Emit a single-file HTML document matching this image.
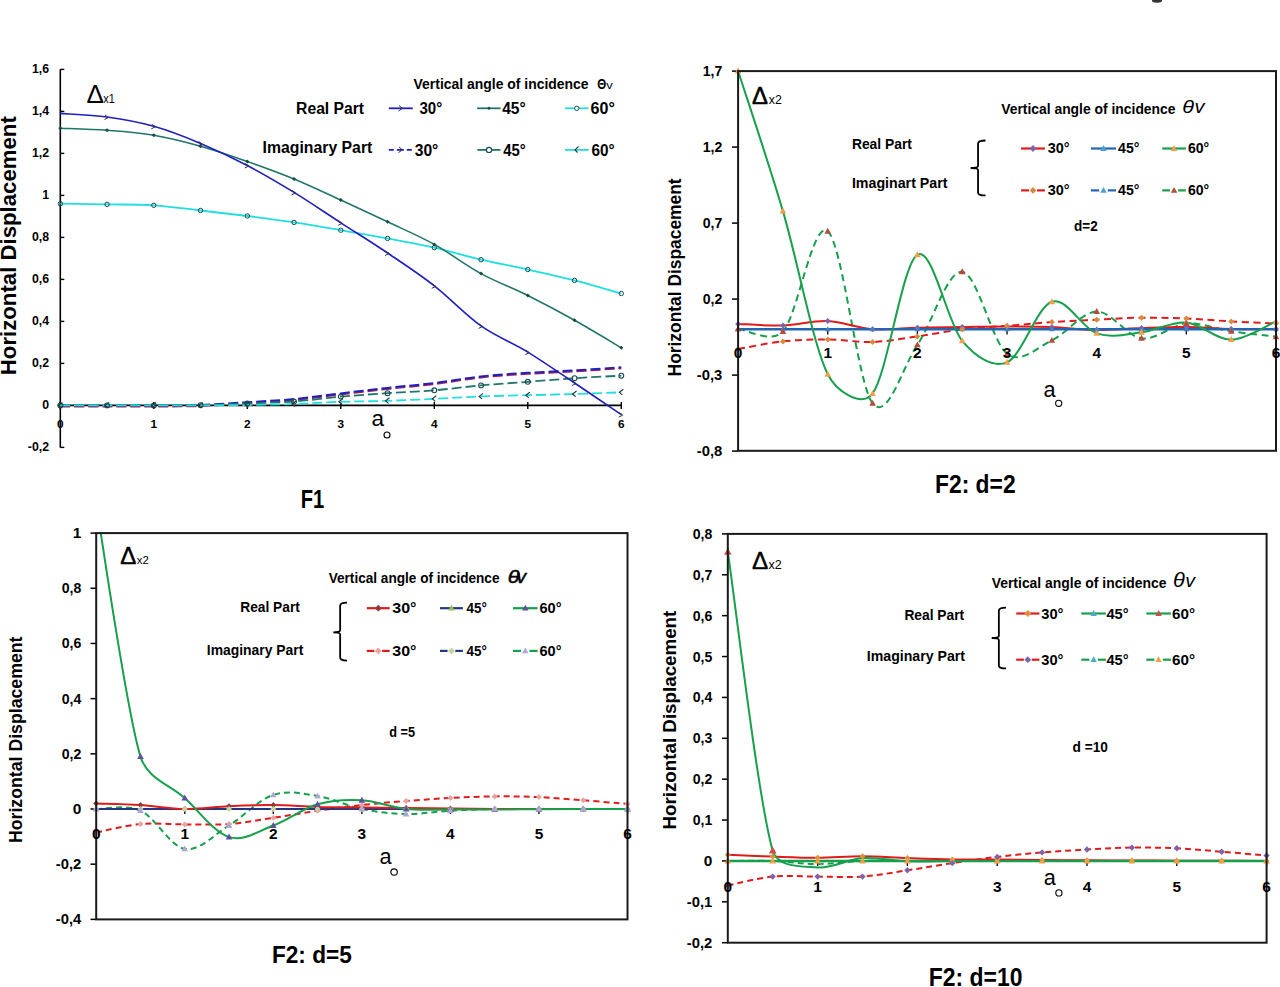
<!DOCTYPE html><html><head><meta charset="utf-8"><style>html,body{margin:0;padding:0;background:#fff;overflow:hidden}svg{display:block}text{font-family:"Liberation Sans",sans-serif}</style></head><body>
<svg width="1280" height="987" viewBox="0 0 1280 987">
<rect width="1280" height="987" fill="#fff"/>
<line x1="60.3" y1="69.3" x2="60.3" y2="447.5" stroke="#000" stroke-width="1.6" stroke-linecap="butt"/>
<line x1="60.3" y1="69.4" x2="64.3" y2="69.4" stroke="#000" stroke-width="1.4" stroke-linecap="butt"/>
<line x1="60.3" y1="111.4" x2="64.3" y2="111.4" stroke="#000" stroke-width="1.4" stroke-linecap="butt"/>
<line x1="60.3" y1="153.4" x2="64.3" y2="153.4" stroke="#000" stroke-width="1.4" stroke-linecap="butt"/>
<line x1="60.3" y1="195.4" x2="64.3" y2="195.4" stroke="#000" stroke-width="1.4" stroke-linecap="butt"/>
<line x1="60.3" y1="237.4" x2="64.3" y2="237.4" stroke="#000" stroke-width="1.4" stroke-linecap="butt"/>
<line x1="60.3" y1="279.4" x2="64.3" y2="279.4" stroke="#000" stroke-width="1.4" stroke-linecap="butt"/>
<line x1="60.3" y1="321.4" x2="64.3" y2="321.4" stroke="#000" stroke-width="1.4" stroke-linecap="butt"/>
<line x1="60.3" y1="363.4" x2="64.3" y2="363.4" stroke="#000" stroke-width="1.4" stroke-linecap="butt"/>
<line x1="60.3" y1="405.4" x2="64.3" y2="405.4" stroke="#000" stroke-width="1.4" stroke-linecap="butt"/>
<line x1="60.3" y1="447.4" x2="64.3" y2="447.4" stroke="#000" stroke-width="1.4" stroke-linecap="butt"/>
<line x1="60.3" y1="405.4" x2="621.8" y2="405.4" stroke="#000" stroke-width="1.6" stroke-linecap="butt"/>
<line x1="60.3" y1="401.9" x2="60.3" y2="408.9" stroke="#000" stroke-width="1.4" stroke-linecap="butt"/>
<line x1="153.8" y1="401.9" x2="153.8" y2="408.9" stroke="#000" stroke-width="1.4" stroke-linecap="butt"/>
<line x1="247.3" y1="401.9" x2="247.3" y2="408.9" stroke="#000" stroke-width="1.4" stroke-linecap="butt"/>
<line x1="340.8" y1="401.9" x2="340.8" y2="408.9" stroke="#000" stroke-width="1.4" stroke-linecap="butt"/>
<line x1="434.3" y1="401.9" x2="434.3" y2="408.9" stroke="#000" stroke-width="1.4" stroke-linecap="butt"/>
<line x1="527.8" y1="401.9" x2="527.8" y2="408.9" stroke="#000" stroke-width="1.4" stroke-linecap="butt"/>
<line x1="621.3" y1="401.9" x2="621.3" y2="408.9" stroke="#000" stroke-width="1.4" stroke-linecap="butt"/>
<text x="49" y="73" font-size="12.3" font-weight="bold" text-anchor="end" fill="#000">1,6</text>
<text x="49" y="115" font-size="12.3" font-weight="bold" text-anchor="end" fill="#000">1,4</text>
<text x="49" y="157" font-size="12.3" font-weight="bold" text-anchor="end" fill="#000">1,2</text>
<text x="49" y="199" font-size="12.3" font-weight="bold" text-anchor="end" fill="#000">1</text>
<text x="49" y="241" font-size="12.3" font-weight="bold" text-anchor="end" fill="#000">0,8</text>
<text x="49" y="283" font-size="12.3" font-weight="bold" text-anchor="end" fill="#000">0,6</text>
<text x="49" y="325" font-size="12.3" font-weight="bold" text-anchor="end" fill="#000">0,4</text>
<text x="49" y="367" font-size="12.3" font-weight="bold" text-anchor="end" fill="#000">0,2</text>
<text x="49" y="409" font-size="12.3" font-weight="bold" text-anchor="end" fill="#000">0</text>
<text x="49" y="451" font-size="12.3" font-weight="bold" text-anchor="end" fill="#000">-0,2</text>
<text x="60.3" y="428.2" font-size="11.8" font-weight="bold" text-anchor="middle" fill="#000">0</text>
<text x="153.8" y="428.2" font-size="11.8" font-weight="bold" text-anchor="middle" fill="#000">1</text>
<text x="247.3" y="428.2" font-size="11.8" font-weight="bold" text-anchor="middle" fill="#000">2</text>
<text x="340.8" y="428.2" font-size="11.8" font-weight="bold" text-anchor="middle" fill="#000">3</text>
<text x="434.3" y="428.2" font-size="11.8" font-weight="bold" text-anchor="middle" fill="#000">4</text>
<text x="527.8" y="428.2" font-size="11.8" font-weight="bold" text-anchor="middle" fill="#000">5</text>
<text x="621.3" y="428.2" font-size="11.8" font-weight="bold" text-anchor="middle" fill="#000">6</text>
<text x="16.1" y="245.7" font-size="21.5" font-weight="bold" text-anchor="middle" fill="#000" textLength="259" lengthAdjust="spacingAndGlyphs" transform="rotate(-90 16.1 245.7)">Horizontal Displacement</text>
<text x="86.4" y="102.8" font-size="26" font-weight="normal" text-anchor="start" fill="#000">Δ</text>
<text x="103.3" y="102.8" font-size="12.8" font-weight="normal" text-anchor="start" fill="#000" textLength="11.5" lengthAdjust="spacingAndGlyphs">x1</text>
<text x="371.5" y="426.2" font-size="22.5" font-weight="normal" text-anchor="start" fill="#000">a</text>
<circle cx="387" cy="435" r="3" fill="none" stroke="#000" stroke-width="1.1"/>
<text x="300.8" y="507.5" font-size="25" font-weight="bold" text-anchor="start" fill="#000" textLength="23.5" lengthAdjust="spacingAndGlyphs">F1</text>
<path d="M60.3,406.6 C68.09,406.6 91.47,406.6 107.05,406.6 C122.63,406.6 138.22,406.67 153.8,406.6 C169.38,406.53 184.97,406.73 200.55,406.2 C216.13,405.67 231.72,404.38 247.3,403.4 C262.88,402.42 278.47,401.77 294.05,400.3 C309.63,398.83 325.22,396.47 340.8,394.6 C356.38,392.73 371.97,390.83 387.55,389.1 C403.13,387.37 418.72,386.12 434.3,384.2 C449.88,382.28 465.47,379.3 481.05,377.6 C496.63,375.9 512.22,375 527.8,374 C543.38,373 558.97,372.53 574.55,371.6 C590.13,370.67 613.51,368.93 621.3,368.4" fill="none" stroke="#b02050" stroke-width="1.6" stroke-dasharray="10 4"/>
<path d="M60.3,405.4 C68.09,405.4 91.47,405.4 107.05,405.4 C122.63,405.4 138.22,405.47 153.8,405.4 C169.38,405.33 184.97,405.53 200.55,405 C216.13,404.47 231.72,403.18 247.3,402.2 C262.88,401.22 278.47,400.57 294.05,399.1 C309.63,397.63 325.22,395.27 340.8,393.4 C356.38,391.53 371.97,389.63 387.55,387.9 C403.13,386.17 418.72,384.92 434.3,383 C449.88,381.08 465.47,378.1 481.05,376.4 C496.63,374.7 512.22,373.8 527.8,372.8 C543.38,371.8 558.97,371.33 574.55,370.4 C590.13,369.47 613.51,367.73 621.3,367.2" fill="none" stroke="#1f1fbf" stroke-width="2" stroke-dasharray="10 4"/>
<path d="M60.3,405.4 C68.09,405.4 91.47,405.4 107.05,405.4 C122.63,405.4 138.22,405.43 153.8,405.4 C169.38,405.37 184.97,405.52 200.55,405.2 C216.13,404.88 231.72,404.12 247.3,403.5 C262.88,402.88 278.47,402.65 294.05,401.5 C309.63,400.35 325.22,397.98 340.8,396.6 C356.38,395.22 371.97,394.25 387.55,393.2 C403.13,392.15 418.72,391.6 434.3,390.3 C449.88,389 465.47,386.82 481.05,385.4 C496.63,383.98 512.22,383 527.8,381.8 C543.38,380.6 558.97,379.22 574.55,378.2 C590.13,377.18 613.51,376.12 621.3,375.7" fill="none" stroke="#21766b" stroke-width="1.8" stroke-dasharray="10 4"/>
<path d="M60.3,405.4 C68.09,405.4 91.47,405.4 107.05,405.4 C122.63,405.4 138.22,405.4 153.8,405.4 C169.38,405.4 184.97,405.47 200.55,405.4 C216.13,405.33 231.72,405.23 247.3,405 C262.88,404.77 278.47,404.53 294.05,404 C309.63,403.47 325.22,402.33 340.8,401.8 C356.38,401.27 371.97,401.3 387.55,400.8 C403.13,400.3 418.72,399.53 434.3,398.8 C449.88,398.07 465.47,397 481.05,396.4 C496.63,395.8 512.22,395.6 527.8,395.2 C543.38,394.8 558.97,394.48 574.55,394 C590.13,393.52 613.51,392.58 621.3,392.3" fill="none" stroke="#22dede" stroke-width="1.8" stroke-dasharray="10 4"/>
<path d="M60.3,203.7 C68.09,203.82 91.47,204.13 107.05,204.4 C122.63,204.67 138.22,204.28 153.8,205.3 C169.38,206.32 184.97,208.72 200.55,210.5 C216.13,212.28 231.72,214.02 247.3,216 C262.88,217.98 278.47,220.03 294.05,222.4 C309.63,224.77 325.22,227.53 340.8,230.2 C356.38,232.87 371.97,235.5 387.55,238.4 C403.13,241.3 418.72,244.05 434.3,247.6 C449.88,251.15 465.47,256.05 481.05,259.7 C496.63,263.35 512.22,266.05 527.8,269.5 C543.38,272.95 558.97,276.4 574.55,280.4 C590.13,284.4 613.51,291.32 621.3,293.5" fill="none" stroke="#22dede" stroke-width="1.8"/>
<path d="M60.3,128.2 C68.09,128.55 91.47,129.13 107.05,130.3 C122.63,131.47 138.22,132.55 153.8,135.2 C169.38,137.85 184.97,141.82 200.55,146.2 C216.13,150.58 231.72,156.03 247.3,161.5 C262.88,166.97 278.47,172.57 294.05,179 C309.63,185.43 325.22,192.97 340.8,200.1 C356.38,207.23 371.97,214.42 387.55,221.8 C403.13,229.18 418.72,235.77 434.3,244.4 C449.88,253.03 465.47,265.08 481.05,273.6 C496.63,282.12 512.22,287.72 527.8,295.5 C543.38,303.28 558.97,311.58 574.55,320.3 C590.13,329.02 613.51,343.22 621.3,347.8" fill="none" stroke="#21766b" stroke-width="1.6"/>
<path d="M60.3,113.4 C68.09,114 91.47,114.85 107.05,117 C122.63,119.15 138.22,121.9 153.8,126.3 C169.38,130.7 184.97,136.87 200.55,143.4 C216.13,149.93 231.72,157.33 247.3,165.5 C262.88,173.67 278.47,182.85 294.05,192.4 C309.63,201.95 325.22,212.7 340.8,222.8 C356.38,232.9 371.97,242.5 387.55,253 C403.13,263.5 418.72,273.65 434.3,285.8 C449.88,297.95 465.47,314.85 481.05,325.9 C496.63,336.95 512.22,342.58 527.8,352.1 C543.38,361.62 558.97,372.58 574.55,383 C590.13,393.42 613.51,409.33 621.3,414.6" fill="none" stroke="#1f1fbf" stroke-width="1.6"/>
<circle cx="60.3" cy="203.7" r="2.2" fill="none" stroke="#1a4a50" stroke-width="1"/>
<circle cx="107.05" cy="204.4" r="2.2" fill="none" stroke="#1a4a50" stroke-width="1"/>
<circle cx="153.8" cy="205.3" r="2.2" fill="none" stroke="#1a4a50" stroke-width="1"/>
<circle cx="200.55" cy="210.5" r="2.2" fill="none" stroke="#1a4a50" stroke-width="1"/>
<circle cx="247.3" cy="216" r="2.2" fill="none" stroke="#1a4a50" stroke-width="1"/>
<circle cx="294.05" cy="222.4" r="2.2" fill="none" stroke="#1a4a50" stroke-width="1"/>
<circle cx="340.8" cy="230.2" r="2.2" fill="none" stroke="#1a4a50" stroke-width="1"/>
<circle cx="387.55" cy="238.4" r="2.2" fill="none" stroke="#1a4a50" stroke-width="1"/>
<circle cx="434.3" cy="247.6" r="2.2" fill="none" stroke="#1a4a50" stroke-width="1"/>
<circle cx="481.05" cy="259.7" r="2.2" fill="none" stroke="#1a4a50" stroke-width="1"/>
<circle cx="527.8" cy="269.5" r="2.2" fill="none" stroke="#1a4a50" stroke-width="1"/>
<circle cx="574.55" cy="280.4" r="2.2" fill="none" stroke="#1a4a50" stroke-width="1"/>
<circle cx="621.3" cy="293.5" r="2.2" fill="none" stroke="#1a4a50" stroke-width="1"/>
<path d="M60.3,126.2 L62.3,128.2 L60.3,130.2 L58.3,128.2Z" fill="#174a44"/>
<path d="M107.05,128.3 L109.05,130.3 L107.05,132.3 L105.05,130.3Z" fill="#174a44"/>
<path d="M153.8,133.2 L155.8,135.2 L153.8,137.2 L151.8,135.2Z" fill="#174a44"/>
<path d="M200.55,144.2 L202.55,146.2 L200.55,148.2 L198.55,146.2Z" fill="#174a44"/>
<path d="M247.3,159.5 L249.3,161.5 L247.3,163.5 L245.3,161.5Z" fill="#174a44"/>
<path d="M294.05,177 L296.05,179 L294.05,181 L292.05,179Z" fill="#174a44"/>
<path d="M340.8,198.1 L342.8,200.1 L340.8,202.1 L338.8,200.1Z" fill="#174a44"/>
<path d="M387.55,219.8 L389.55,221.8 L387.55,223.8 L385.55,221.8Z" fill="#174a44"/>
<path d="M434.3,242.4 L436.3,244.4 L434.3,246.4 L432.3,244.4Z" fill="#174a44"/>
<path d="M481.05,271.6 L483.05,273.6 L481.05,275.6 L479.05,273.6Z" fill="#174a44"/>
<path d="M527.8,293.5 L529.8,295.5 L527.8,297.5 L525.8,295.5Z" fill="#174a44"/>
<path d="M574.55,318.3 L576.55,320.3 L574.55,322.3 L572.55,320.3Z" fill="#174a44"/>
<path d="M621.3,345.8 L623.3,347.8 L621.3,349.8 L619.3,347.8Z" fill="#174a44"/>
<circle cx="60.3" cy="405.4" r="2.4" fill="none" stroke="#1a4a50" stroke-width="1.1"/>
<circle cx="107.05" cy="405.4" r="2.4" fill="none" stroke="#1a4a50" stroke-width="1.1"/>
<circle cx="153.8" cy="405.4" r="2.4" fill="none" stroke="#1a4a50" stroke-width="1.1"/>
<circle cx="200.55" cy="405.2" r="2.4" fill="none" stroke="#1a4a50" stroke-width="1.1"/>
<circle cx="247.3" cy="403.5" r="2.4" fill="none" stroke="#1a4a50" stroke-width="1.1"/>
<circle cx="294.05" cy="401.5" r="2.4" fill="none" stroke="#1a4a50" stroke-width="1.1"/>
<circle cx="340.8" cy="396.6" r="2.4" fill="none" stroke="#1a4a50" stroke-width="1.1"/>
<circle cx="387.55" cy="393.2" r="2.4" fill="none" stroke="#1a4a50" stroke-width="1.1"/>
<circle cx="434.3" cy="390.3" r="2.4" fill="none" stroke="#1a4a50" stroke-width="1.1"/>
<circle cx="481.05" cy="385.4" r="2.4" fill="none" stroke="#1a4a50" stroke-width="1.1"/>
<circle cx="527.8" cy="381.8" r="2.4" fill="none" stroke="#1a4a50" stroke-width="1.1"/>
<circle cx="574.55" cy="378.2" r="2.4" fill="none" stroke="#1a4a50" stroke-width="1.1"/>
<circle cx="621.3" cy="375.7" r="2.4" fill="none" stroke="#1a4a50" stroke-width="1.1"/>
<path d="M62.3,402.4 L58.3,405.4 L61.3,407.9" fill="none" stroke="#203838" stroke-width="1.1"/>
<path d="M109.05,402.4 L105.05,405.4 L108.05,407.9" fill="none" stroke="#203838" stroke-width="1.1"/>
<path d="M155.8,402.4 L151.8,405.4 L154.8,407.9" fill="none" stroke="#203838" stroke-width="1.1"/>
<path d="M202.55,402.4 L198.55,405.4 L201.55,407.9" fill="none" stroke="#203838" stroke-width="1.1"/>
<path d="M249.3,402 L245.3,405 L248.3,407.5" fill="none" stroke="#203838" stroke-width="1.1"/>
<path d="M296.05,401 L292.05,404 L295.05,406.5" fill="none" stroke="#203838" stroke-width="1.1"/>
<path d="M342.8,398.8 L338.8,401.8 L341.8,404.3" fill="none" stroke="#203838" stroke-width="1.1"/>
<path d="M389.55,397.8 L385.55,400.8 L388.55,403.3" fill="none" stroke="#203838" stroke-width="1.1"/>
<path d="M436.3,395.8 L432.3,398.8 L435.3,401.3" fill="none" stroke="#203838" stroke-width="1.1"/>
<path d="M483.05,393.4 L479.05,396.4 L482.05,398.9" fill="none" stroke="#203838" stroke-width="1.1"/>
<path d="M529.8,392.2 L525.8,395.2 L528.8,397.7" fill="none" stroke="#203838" stroke-width="1.1"/>
<path d="M576.55,391 L572.55,394 L575.55,396.5" fill="none" stroke="#203838" stroke-width="1.1"/>
<path d="M623.3,389.3 L619.3,392.3 L622.3,394.8" fill="none" stroke="#203838" stroke-width="1.1"/>
<path d="M105.05,115 L108.55,117.5 L104.55,119.5" fill="none" stroke="#303050" stroke-width="1"/>
<path d="M151.8,124.3 L155.3,126.8 L151.3,128.8" fill="none" stroke="#303050" stroke-width="1"/>
<path d="M198.55,141.4 L202.05,143.9 L198.05,145.9" fill="none" stroke="#303050" stroke-width="1"/>
<path d="M245.3,163.5 L248.8,166 L244.8,168" fill="none" stroke="#303050" stroke-width="1"/>
<path d="M292.05,190.4 L295.55,192.9 L291.55,194.9" fill="none" stroke="#303050" stroke-width="1"/>
<path d="M338.8,220.8 L342.3,223.3 L338.3,225.3" fill="none" stroke="#303050" stroke-width="1"/>
<path d="M385.55,251 L389.05,253.5 L385.05,255.5" fill="none" stroke="#303050" stroke-width="1"/>
<path d="M432.3,283.8 L435.8,286.3 L431.8,288.3" fill="none" stroke="#303050" stroke-width="1"/>
<path d="M479.05,323.9 L482.55,326.4 L478.55,328.4" fill="none" stroke="#303050" stroke-width="1"/>
<path d="M525.8,350.1 L529.3,352.6 L525.3,354.6" fill="none" stroke="#303050" stroke-width="1"/>
<path d="M572.55,381 L576.05,383.5 L572.05,385.5" fill="none" stroke="#303050" stroke-width="1"/>
<path d="M619.3,412.6 L622.8,415.1 L618.8,417.1" fill="none" stroke="#303050" stroke-width="1"/>
<text x="413.6" y="89" font-size="14.2" font-weight="bold" text-anchor="start" fill="#000" textLength="175" lengthAdjust="spacingAndGlyphs">Vertical angle of incidence</text>
<text x="597.2" y="89" font-size="14.2" font-weight="bold" text-anchor="start" fill="#000" textLength="9" lengthAdjust="spacingAndGlyphs">Θ</text>
<text x="606.3" y="89" font-size="11" font-weight="normal" text-anchor="start" fill="#000" textLength="6.5" lengthAdjust="spacingAndGlyphs">v</text>
<text x="296.1" y="113.5" font-size="17.4" font-weight="bold" text-anchor="start" fill="#000" textLength="68" lengthAdjust="spacingAndGlyphs">Real Part</text>
<text x="262.6" y="153.1" font-size="17.4" font-weight="bold" text-anchor="start" fill="#000" textLength="109.7" lengthAdjust="spacingAndGlyphs">Imaginary Part</text>
<line x1="388.8" y1="108.3" x2="412.8" y2="108.3" stroke="#1f1fbf" stroke-width="1.8" stroke-linecap="butt"/>
<text x="419.4" y="114.3" font-size="16.8" font-weight="bold" text-anchor="start" fill="#000" textLength="22.8" lengthAdjust="spacingAndGlyphs">30°</text>
<line x1="477.2" y1="108.3" x2="500.6" y2="108.3" stroke="#21766b" stroke-width="1.8" stroke-linecap="butt"/>
<text x="502.2" y="114.3" font-size="16.8" font-weight="bold" text-anchor="start" fill="#000" textLength="23.5" lengthAdjust="spacingAndGlyphs">45°</text>
<line x1="565" y1="108.3" x2="588.5" y2="108.3" stroke="#22dede" stroke-width="1.8" stroke-linecap="butt"/>
<text x="590.6" y="114.3" font-size="16.8" font-weight="bold" text-anchor="start" fill="#000" textLength="24.3" lengthAdjust="spacingAndGlyphs">60°</text>
<line x1="388.8" y1="149.9" x2="412.8" y2="149.9" stroke="#1f1fbf" stroke-width="1.8" stroke-linecap="butt" stroke-dasharray="5 3 7 3 5"/>
<text x="414.7" y="155.9" font-size="16.8" font-weight="bold" text-anchor="start" fill="#000" textLength="23.7" lengthAdjust="spacingAndGlyphs">30°</text>
<line x1="477.3" y1="149.9" x2="500.5" y2="149.9" stroke="#21766b" stroke-width="1.8" stroke-linecap="butt"/>
<text x="503.2" y="155.9" font-size="16.8" font-weight="bold" text-anchor="start" fill="#000" textLength="22.5" lengthAdjust="spacingAndGlyphs">45°</text>
<line x1="565" y1="149.9" x2="588.8" y2="149.9" stroke="#22dede" stroke-width="1.8" stroke-linecap="butt"/>
<text x="591.5" y="155.9" font-size="16.8" font-weight="bold" text-anchor="start" fill="#000" textLength="23.2" lengthAdjust="spacingAndGlyphs">60°</text>
<circle cx="489" cy="149.9" r="2.6" fill="#fff" stroke="#1a4a50" stroke-width="1.2"/>
<circle cx="576.8" cy="108.3" r="2.2" fill="#fff" stroke="#1a4a50" stroke-width="1"/>
<path d="M578.5,146.5 L575,149.9 L577.5,152.5" fill="none" stroke="#203838" stroke-width="1.1"/>
<path d="M399,105.5 L402.5,108.3 L398.5,111" fill="none" stroke="#303050" stroke-width="1"/>
<path d="M399,147 L402.5,149.9 L398.5,152.5" fill="none" stroke="#303050" stroke-width="1"/>
<path d="M489,106.5 L490.8,108.3 L489,110.1 L487.2,108.3Z" fill="#174a44"/>
<line x1="732" y1="71.1" x2="738.1" y2="71.1" stroke="#000" stroke-width="1.5" stroke-linecap="butt"/>
<line x1="732" y1="147.1" x2="738.1" y2="147.1" stroke="#000" stroke-width="1.5" stroke-linecap="butt"/>
<line x1="732" y1="223.1" x2="738.1" y2="223.1" stroke="#000" stroke-width="1.5" stroke-linecap="butt"/>
<line x1="732" y1="299.1" x2="738.1" y2="299.1" stroke="#000" stroke-width="1.5" stroke-linecap="butt"/>
<line x1="732" y1="375.1" x2="738.1" y2="375.1" stroke="#000" stroke-width="1.5" stroke-linecap="butt"/>
<line x1="732" y1="451.1" x2="738.1" y2="451.1" stroke="#000" stroke-width="1.5" stroke-linecap="butt"/>
<line x1="827.75" y1="329.5" x2="827.75" y2="334.5" stroke="#000" stroke-width="1.3" stroke-linecap="butt"/>
<line x1="917.4" y1="329.5" x2="917.4" y2="334.5" stroke="#000" stroke-width="1.3" stroke-linecap="butt"/>
<line x1="1007.05" y1="329.5" x2="1007.05" y2="334.5" stroke="#000" stroke-width="1.3" stroke-linecap="butt"/>
<line x1="1096.7" y1="329.5" x2="1096.7" y2="334.5" stroke="#000" stroke-width="1.3" stroke-linecap="butt"/>
<line x1="1186.35" y1="329.5" x2="1186.35" y2="334.5" stroke="#000" stroke-width="1.3" stroke-linecap="butt"/>
<line x1="1276" y1="329.5" x2="1276" y2="334.5" stroke="#000" stroke-width="1.3" stroke-linecap="butt"/>
<text x="722.3" y="76.1" font-size="14.6" font-weight="bold" text-anchor="end" fill="#000" textLength="19.6" lengthAdjust="spacingAndGlyphs">1,7</text>
<text x="722.3" y="152.1" font-size="14.6" font-weight="bold" text-anchor="end" fill="#000" textLength="19.6" lengthAdjust="spacingAndGlyphs">1,2</text>
<text x="722.3" y="228.1" font-size="14.6" font-weight="bold" text-anchor="end" fill="#000" textLength="19.6" lengthAdjust="spacingAndGlyphs">0,7</text>
<text x="722.3" y="304.1" font-size="14.6" font-weight="bold" text-anchor="end" fill="#000" textLength="19.6" lengthAdjust="spacingAndGlyphs">0,2</text>
<text x="722.3" y="380.1" font-size="14.6" font-weight="bold" text-anchor="end" fill="#000" textLength="25.5" lengthAdjust="spacingAndGlyphs">-0,3</text>
<text x="722.3" y="456.1" font-size="14.6" font-weight="bold" text-anchor="end" fill="#000" textLength="25.5" lengthAdjust="spacingAndGlyphs">-0,8</text>
<path d="M738.1,349 C745.57,347.73 767.98,343 782.93,341.4 C797.87,339.8 812.81,339.3 827.75,339.4 C842.69,339.5 857.63,342.5 872.58,342 C887.52,341.5 902.46,338.52 917.4,336.4 C932.34,334.28 947.28,331.07 962.23,329.3 C977.17,327.53 992.11,327 1007.05,325.8 C1021.99,324.6 1036.93,323.12 1051.88,322.1 C1066.82,321.08 1081.76,320.43 1096.7,319.7 C1111.64,318.97 1126.58,317.88 1141.53,317.7 C1156.47,317.52 1171.41,317.98 1186.35,318.6 C1201.29,319.22 1216.23,320.57 1231.18,321.4 C1246.12,322.23 1268.53,323.23 1276,323.6" fill="none" stroke="#e01b1b" stroke-width="2" stroke-dasharray="7 4.5"/>
<path d="M738.1,328.8 C745.57,329.25 771.37,344.06 782.93,331.5 C797.87,315.25 812.81,219.33 827.75,231.3 C842.69,243.27 857.63,384.37 872.58,403.3 C887.52,422.23 902.46,366.82 917.4,344.9 C932.34,322.98 947.28,270.32 962.23,271.8 C977.17,273.28 992.11,342.37 1007.05,353.8 C1021.17,364.6 1036.93,347.43 1051.88,340.4 C1066.82,333.37 1081.76,311.95 1096.7,311.6 C1111.64,311.25 1126.58,336.3 1141.53,338.3 C1156.47,340.3 1171.41,324.77 1186.35,323.6 C1201.29,322.43 1216.23,329.12 1231.18,331.3 C1246.12,333.48 1268.53,335.8 1276,336.7" fill="none" stroke="#16a04c" stroke-width="2" stroke-dasharray="7 4.5"/>
<path d="M738.1,323.9 C745.57,324.17 767.98,325.97 782.93,325.5 C797.87,325.03 812.81,320.47 827.75,321.1 C842.69,321.73 857.63,328.2 872.58,329.3 C887.52,330.4 902.46,328.07 917.4,327.7 C932.34,327.33 947.28,327.3 962.23,327.1 C977.17,326.9 992.11,326.52 1007.05,326.5 C1021.99,326.48 1036.93,326.42 1051.88,327 C1066.82,327.58 1081.76,329.83 1096.7,330 C1111.64,330.17 1126.58,328.5 1141.53,328 C1156.47,327.5 1171.41,326.83 1186.35,327 C1201.29,327.17 1216.23,328.67 1231.18,329 C1246.12,329.33 1268.53,329 1276,329" fill="none" stroke="#e01b1b" stroke-width="2"/>
<line x1="738.1" y1="329.2" x2="1276" y2="329.2" stroke="#2464b2" stroke-width="2.4" stroke-linecap="butt"/>
<path d="M738.1,71 C745.57,94.35 767.98,160.55 782.93,211.1 C797.87,261.65 812.81,343.9 827.75,374.3 C835.92,390.93 861.46,408.33 872.58,393.5 C887.52,373.57 902.46,263.47 917.4,254.7 C932.34,245.93 947.28,322.97 962.23,340.9 C974.31,355.4 992.11,368.83 1007.05,362.3 C1021.99,355.77 1036.93,306.52 1051.88,301.7 C1066.82,296.88 1081.76,328.3 1096.7,333.4 C1111.64,338.5 1126.58,334.12 1141.53,332.3 C1156.47,330.48 1171.41,321.28 1186.35,322.5 C1201.29,323.72 1216.23,339.78 1231.18,339.6 C1246.12,339.42 1268.53,324.43 1276,321.4" fill="none" stroke="#16a04c" stroke-width="2"/>
<path d="M738.1,320.9 L741.1,323.9 L738.1,326.9 L735.1,323.9Z" fill="#7d62ae"/>
<path d="M782.93,322.5 L785.93,325.5 L782.93,328.5 L779.93,325.5Z" fill="#7d62ae"/>
<path d="M827.75,318.1 L830.75,321.1 L827.75,324.1 L824.75,321.1Z" fill="#7d62ae"/>
<path d="M872.58,326.3 L875.58,329.3 L872.58,332.3 L869.58,329.3Z" fill="#7d62ae"/>
<path d="M917.4,324.7 L920.4,327.7 L917.4,330.7 L914.4,327.7Z" fill="#7d62ae"/>
<path d="M962.23,324.1 L965.23,327.1 L962.23,330.1 L959.23,327.1Z" fill="#7d62ae"/>
<path d="M1007.05,323.5 L1010.05,326.5 L1007.05,329.5 L1004.05,326.5Z" fill="#7d62ae"/>
<path d="M1051.88,324 L1054.88,327 L1051.88,330 L1048.88,327Z" fill="#7d62ae"/>
<path d="M1096.7,327 L1099.7,330 L1096.7,333 L1093.7,330Z" fill="#7d62ae"/>
<path d="M1141.53,325 L1144.53,328 L1141.53,331 L1138.53,328Z" fill="#7d62ae"/>
<path d="M1186.35,324 L1189.35,327 L1186.35,330 L1183.35,327Z" fill="#7d62ae"/>
<path d="M1231.18,326 L1234.18,329 L1231.18,332 L1228.18,329Z" fill="#7d62ae"/>
<path d="M1276,326 L1279,329 L1276,332 L1273,329Z" fill="#7d62ae"/>
<path d="M738.1,326.2 L740.95,331.3 L735.25,331.3Z" fill="#4b7fbf"/>
<path d="M782.93,326.2 L785.78,331.3 L780.08,331.3Z" fill="#4b7fbf"/>
<path d="M827.75,326.2 L830.6,331.3 L824.9,331.3Z" fill="#4b7fbf"/>
<path d="M872.58,326.2 L875.43,331.3 L869.73,331.3Z" fill="#4b7fbf"/>
<path d="M917.4,326.2 L920.25,331.3 L914.55,331.3Z" fill="#4b7fbf"/>
<path d="M962.23,326.2 L965.08,331.3 L959.38,331.3Z" fill="#4b7fbf"/>
<path d="M1007.05,326.2 L1009.9,331.3 L1004.2,331.3Z" fill="#4b7fbf"/>
<path d="M1051.88,326.2 L1054.72,331.3 L1049.03,331.3Z" fill="#4b7fbf"/>
<path d="M1096.7,326.2 L1099.55,331.3 L1093.85,331.3Z" fill="#4b7fbf"/>
<path d="M1141.53,326.2 L1144.38,331.3 L1138.68,331.3Z" fill="#4b7fbf"/>
<path d="M1186.35,326.2 L1189.2,331.3 L1183.5,331.3Z" fill="#4b7fbf"/>
<path d="M1231.18,326.2 L1234.03,331.3 L1228.33,331.3Z" fill="#4b7fbf"/>
<path d="M1276,326.2 L1278.85,331.3 L1273.15,331.3Z" fill="#4b7fbf"/>
<path d="M738.1,346 L741.1,349 L738.1,352 L735.1,349Z" fill="#d98b3c"/>
<path d="M782.93,338.4 L785.93,341.4 L782.93,344.4 L779.93,341.4Z" fill="#d98b3c"/>
<path d="M827.75,336.4 L830.75,339.4 L827.75,342.4 L824.75,339.4Z" fill="#d98b3c"/>
<path d="M872.58,339 L875.58,342 L872.58,345 L869.58,342Z" fill="#d98b3c"/>
<path d="M917.4,333.4 L920.4,336.4 L917.4,339.4 L914.4,336.4Z" fill="#d98b3c"/>
<path d="M962.23,326.3 L965.23,329.3 L962.23,332.3 L959.23,329.3Z" fill="#d98b3c"/>
<path d="M1007.05,322.8 L1010.05,325.8 L1007.05,328.8 L1004.05,325.8Z" fill="#d98b3c"/>
<path d="M1051.88,319.1 L1054.88,322.1 L1051.88,325.1 L1048.88,322.1Z" fill="#d98b3c"/>
<path d="M1096.7,316.7 L1099.7,319.7 L1096.7,322.7 L1093.7,319.7Z" fill="#d98b3c"/>
<path d="M1141.53,314.7 L1144.53,317.7 L1141.53,320.7 L1138.53,317.7Z" fill="#d98b3c"/>
<path d="M1186.35,315.6 L1189.35,318.6 L1186.35,321.6 L1183.35,318.6Z" fill="#d98b3c"/>
<path d="M1231.18,318.4 L1234.18,321.4 L1231.18,324.4 L1228.18,321.4Z" fill="#d98b3c"/>
<path d="M1276,320.6 L1279,323.6 L1276,326.6 L1273,323.6Z" fill="#d98b3c"/>
<path d="M738.1,67.5 L741.43,73.45 L734.77,73.45Z" fill="#f0a048"/>
<path d="M782.93,207.6 L786.25,213.55 L779.6,213.55Z" fill="#f0a048"/>
<path d="M827.75,370.8 L831.08,376.75 L824.42,376.75Z" fill="#f0a048"/>
<path d="M872.58,390 L875.9,395.95 L869.25,395.95Z" fill="#f0a048"/>
<path d="M917.4,251.2 L920.73,257.15 L914.08,257.15Z" fill="#f0a048"/>
<path d="M962.23,337.4 L965.55,343.35 L958.9,343.35Z" fill="#f0a048"/>
<path d="M1007.05,358.8 L1010.38,364.75 L1003.73,364.75Z" fill="#f0a048"/>
<path d="M1051.88,298.2 L1055.2,304.15 L1048.55,304.15Z" fill="#f0a048"/>
<path d="M1096.7,329.9 L1100.03,335.85 L1093.38,335.85Z" fill="#f0a048"/>
<path d="M1141.53,328.8 L1144.85,334.75 L1138.2,334.75Z" fill="#f0a048"/>
<path d="M1186.35,319 L1189.67,324.95 L1183.02,324.95Z" fill="#f0a048"/>
<path d="M1231.18,336.1 L1234.5,342.05 L1227.85,342.05Z" fill="#f0a048"/>
<path d="M1276,317.9 L1279.33,323.85 L1272.67,323.85Z" fill="#f0a048"/>
<path d="M738.1,325.3 L741.43,331.25 L734.77,331.25Z" fill="#b84a3c"/>
<path d="M782.93,328 L786.25,333.95 L779.6,333.95Z" fill="#b84a3c"/>
<path d="M827.75,227.8 L831.08,233.75 L824.42,233.75Z" fill="#b84a3c"/>
<path d="M872.58,399.8 L875.9,405.75 L869.25,405.75Z" fill="#b84a3c"/>
<path d="M917.4,341.4 L920.73,347.35 L914.08,347.35Z" fill="#b84a3c"/>
<path d="M962.23,268.3 L965.55,274.25 L958.9,274.25Z" fill="#b84a3c"/>
<path d="M1007.05,350.3 L1010.38,356.25 L1003.73,356.25Z" fill="#b84a3c"/>
<path d="M1051.88,336.9 L1055.2,342.85 L1048.55,342.85Z" fill="#b84a3c"/>
<path d="M1096.7,308.1 L1100.03,314.05 L1093.38,314.05Z" fill="#b84a3c"/>
<path d="M1141.53,334.8 L1144.85,340.75 L1138.2,340.75Z" fill="#b84a3c"/>
<path d="M1186.35,320.1 L1189.67,326.05 L1183.02,326.05Z" fill="#b84a3c"/>
<path d="M1231.18,327.8 L1234.5,333.75 L1227.85,333.75Z" fill="#b84a3c"/>
<path d="M1276,333.2 L1279.33,339.15 L1272.67,339.15Z" fill="#b84a3c"/>
<rect x="738.1" y="71.1" width="537.9" height="379.7" fill="none" stroke="#1a1a1a" stroke-width="2"/>
<text x="738.1" y="357.6" font-size="14.6" font-weight="bold" text-anchor="middle" fill="#000" textLength="8.6" lengthAdjust="spacingAndGlyphs">0</text>
<text x="827.75" y="357.6" font-size="14.6" font-weight="bold" text-anchor="middle" fill="#000" textLength="8.6" lengthAdjust="spacingAndGlyphs">1</text>
<text x="917.4" y="357.6" font-size="14.6" font-weight="bold" text-anchor="middle" fill="#000" textLength="8.6" lengthAdjust="spacingAndGlyphs">2</text>
<text x="1007.05" y="357.6" font-size="14.6" font-weight="bold" text-anchor="middle" fill="#000" textLength="8.6" lengthAdjust="spacingAndGlyphs">3</text>
<text x="1096.7" y="357.6" font-size="14.6" font-weight="bold" text-anchor="middle" fill="#000" textLength="8.6" lengthAdjust="spacingAndGlyphs">4</text>
<text x="1186.35" y="357.6" font-size="14.6" font-weight="bold" text-anchor="middle" fill="#000" textLength="8.6" lengthAdjust="spacingAndGlyphs">5</text>
<text x="1276" y="357.6" font-size="14.6" font-weight="bold" text-anchor="middle" fill="#000" textLength="8.6" lengthAdjust="spacingAndGlyphs">6</text>
<text x="681" y="277.4" font-size="19" font-weight="bold" text-anchor="middle" fill="#000" textLength="198" lengthAdjust="spacingAndGlyphs" transform="rotate(-90 681 277.4)">Horizontal Dispacement</text>
<text x="752" y="103.6" font-size="23.8" font-weight="normal" text-anchor="start" fill="#000" stroke="#000" stroke-width="0.5">Δ</text>
<text x="768.8" y="103.6" font-size="12.2" font-weight="normal" text-anchor="start" fill="#000" textLength="13" lengthAdjust="spacingAndGlyphs">x2</text>
<text x="1043.5" y="396.5" font-size="21.7" font-weight="normal" text-anchor="start" fill="#000">a</text>
<circle cx="1058.7" cy="403.3" r="3.1" fill="none" stroke="#000" stroke-width="1.1"/>
<text x="935" y="493.1" font-size="25.4" font-weight="bold" text-anchor="start" fill="#000" textLength="80.6" lengthAdjust="spacingAndGlyphs">F2: d=2</text>
<text x="1001.2" y="113.8" font-size="15" font-weight="bold" text-anchor="start" fill="#000" textLength="174.3" lengthAdjust="spacingAndGlyphs">Vertical angle of incidence</text>
<text x="1182.3" y="113.4" font-size="18.4" font-weight="normal" text-anchor="start" fill="#000" font-style="italic" textLength="11.8" lengthAdjust="spacingAndGlyphs">θ</text>
<text x="1194.4" y="113.4" font-size="18.3" font-weight="normal" text-anchor="start" fill="#000" font-style="italic" textLength="10" lengthAdjust="spacingAndGlyphs">v</text>
<text x="851.9" y="149.3" font-size="14.5" font-weight="bold" text-anchor="start" fill="#000" textLength="60" lengthAdjust="spacingAndGlyphs">Real Part</text>
<text x="851.9" y="188" font-size="14.5" font-weight="bold" text-anchor="start" fill="#000" textLength="95.6" lengthAdjust="spacingAndGlyphs">Imaginart Part</text>
<path d="M985.5,140.5 Q978.05,140.5 978.05,143.5 L978.05,166 Q978.05,168 970.6,168 Q978.05,168 978.05,170 L978.05,192.4 Q978.05,195.4 985.5,195.4" fill="none" stroke="#000" stroke-width="1.8"/>
<line x1="1021.1" y1="148.5" x2="1044.9" y2="148.5" stroke="#e01b1b" stroke-width="2.2" stroke-linecap="butt"/>
<path d="M1033,145.1 L1036.4,148.5 L1033,151.9 L1029.6,148.5Z" fill="#7d62ae"/>
<text x="1047.7" y="152.9" font-size="13.8" font-weight="bold" text-anchor="start" fill="#000" textLength="21.9" lengthAdjust="spacingAndGlyphs">30°</text>
<line x1="1090.9" y1="148.5" x2="1116.1" y2="148.5" stroke="#2464b2" stroke-width="2.2" stroke-linecap="butt"/>
<path d="M1103.5,145.1 L1106.73,150.88 L1100.27,150.88Z" fill="#4b9fd0"/>
<text x="1118.1" y="152.9" font-size="13.8" font-weight="bold" text-anchor="start" fill="#000" textLength="21.3" lengthAdjust="spacingAndGlyphs">45°</text>
<line x1="1162.2" y1="148.5" x2="1185.9" y2="148.5" stroke="#16a04c" stroke-width="2.2" stroke-linecap="butt"/>
<path d="M1174.05,145.1 L1177.28,150.88 L1170.82,150.88Z" fill="#f0a048"/>
<text x="1187.9" y="152.9" font-size="13.8" font-weight="bold" text-anchor="start" fill="#000" textLength="21.3" lengthAdjust="spacingAndGlyphs">60°</text>
<line x1="1021.1" y1="190.4" x2="1028.95" y2="190.4" stroke="#e01b1b" stroke-width="2.2" stroke-linecap="butt"/>
<line x1="1037.05" y1="190.4" x2="1044.9" y2="190.4" stroke="#e01b1b" stroke-width="2.2" stroke-linecap="butt"/>
<path d="M1033,187 L1036.4,190.4 L1033,193.8 L1029.6,190.4Z" fill="#d98b3c"/>
<text x="1047.7" y="194.8" font-size="13.8" font-weight="bold" text-anchor="start" fill="#000" textLength="21.9" lengthAdjust="spacingAndGlyphs">30°</text>
<line x1="1090.9" y1="190.4" x2="1099.22" y2="190.4" stroke="#2464b2" stroke-width="2.2" stroke-linecap="butt"/>
<line x1="1107.78" y1="190.4" x2="1116.1" y2="190.4" stroke="#2464b2" stroke-width="2.2" stroke-linecap="butt"/>
<path d="M1103.5,187 L1106.73,192.78 L1100.27,192.78Z" fill="#4b9fd0"/>
<text x="1118.1" y="194.8" font-size="13.8" font-weight="bold" text-anchor="start" fill="#000" textLength="21.3" lengthAdjust="spacingAndGlyphs">45°</text>
<line x1="1162.2" y1="190.4" x2="1170.02" y2="190.4" stroke="#16a04c" stroke-width="2.2" stroke-linecap="butt"/>
<line x1="1178.08" y1="190.4" x2="1185.9" y2="190.4" stroke="#16a04c" stroke-width="2.2" stroke-linecap="butt"/>
<path d="M1174.05,187 L1177.28,192.78 L1170.82,192.78Z" fill="#b84a3c"/>
<text x="1187.9" y="194.8" font-size="13.8" font-weight="bold" text-anchor="start" fill="#000" textLength="21.3" lengthAdjust="spacingAndGlyphs">60°</text>
<text x="1074" y="230.9" font-size="14" font-weight="bold" text-anchor="start" fill="#000" textLength="23.7" lengthAdjust="spacingAndGlyphs">d=2</text>
<line x1="90.5" y1="533.1" x2="96.2" y2="533.1" stroke="#000" stroke-width="1.5" stroke-linecap="butt"/>
<line x1="90.5" y1="588.28" x2="96.2" y2="588.28" stroke="#000" stroke-width="1.5" stroke-linecap="butt"/>
<line x1="90.5" y1="643.46" x2="96.2" y2="643.46" stroke="#000" stroke-width="1.5" stroke-linecap="butt"/>
<line x1="90.5" y1="698.64" x2="96.2" y2="698.64" stroke="#000" stroke-width="1.5" stroke-linecap="butt"/>
<line x1="90.5" y1="753.82" x2="96.2" y2="753.82" stroke="#000" stroke-width="1.5" stroke-linecap="butt"/>
<line x1="90.5" y1="809" x2="96.2" y2="809" stroke="#000" stroke-width="1.5" stroke-linecap="butt"/>
<line x1="90.5" y1="864.18" x2="96.2" y2="864.18" stroke="#000" stroke-width="1.5" stroke-linecap="butt"/>
<line x1="90.5" y1="919.36" x2="96.2" y2="919.36" stroke="#000" stroke-width="1.5" stroke-linecap="butt"/>
<line x1="184.75" y1="809" x2="184.75" y2="814" stroke="#000" stroke-width="1.3" stroke-linecap="butt"/>
<line x1="273.3" y1="809" x2="273.3" y2="814" stroke="#000" stroke-width="1.3" stroke-linecap="butt"/>
<line x1="361.85" y1="809" x2="361.85" y2="814" stroke="#000" stroke-width="1.3" stroke-linecap="butt"/>
<line x1="450.4" y1="809" x2="450.4" y2="814" stroke="#000" stroke-width="1.3" stroke-linecap="butt"/>
<line x1="538.95" y1="809" x2="538.95" y2="814" stroke="#000" stroke-width="1.3" stroke-linecap="butt"/>
<line x1="627.5" y1="809" x2="627.5" y2="814" stroke="#000" stroke-width="1.3" stroke-linecap="butt"/>
<text x="81.3" y="538.1" font-size="14.6" font-weight="bold" text-anchor="end" fill="#000" textLength="8.6" lengthAdjust="spacingAndGlyphs">1</text>
<text x="81.3" y="593.28" font-size="14.6" font-weight="bold" text-anchor="end" fill="#000" textLength="19.6" lengthAdjust="spacingAndGlyphs">0,8</text>
<text x="81.3" y="648.46" font-size="14.6" font-weight="bold" text-anchor="end" fill="#000" textLength="19.6" lengthAdjust="spacingAndGlyphs">0,6</text>
<text x="81.3" y="703.64" font-size="14.6" font-weight="bold" text-anchor="end" fill="#000" textLength="19.6" lengthAdjust="spacingAndGlyphs">0,4</text>
<text x="81.3" y="758.82" font-size="14.6" font-weight="bold" text-anchor="end" fill="#000" textLength="19.6" lengthAdjust="spacingAndGlyphs">0,2</text>
<text x="81.3" y="814" font-size="14.6" font-weight="bold" text-anchor="end" fill="#000" textLength="8.6" lengthAdjust="spacingAndGlyphs">0</text>
<text x="81.3" y="869.18" font-size="14.6" font-weight="bold" text-anchor="end" fill="#000" textLength="25.5" lengthAdjust="spacingAndGlyphs">-0,2</text>
<text x="81.3" y="924.36" font-size="14.6" font-weight="bold" text-anchor="end" fill="#000" textLength="25.5" lengthAdjust="spacingAndGlyphs">-0,4</text>
<path d="M96.2,832.5 C103.58,831.08 125.72,825.35 140.47,824 C155.23,822.65 169.99,824.4 184.75,824.4 C199.51,824.4 214.27,825.1 229.02,824 C243.78,822.9 258.54,820 273.3,817.8 C288.06,815.6 302.82,812.93 317.57,810.8 C332.33,808.67 347.09,806.63 361.85,805 C376.61,803.37 391.37,802.17 406.12,801 C420.88,799.83 435.64,798.77 450.4,798 C465.16,797.23 479.92,796.55 494.67,796.4 C509.43,796.25 524.19,796.45 538.95,797.1 C553.71,797.75 568.47,799.17 583.23,800.3 C597.98,801.43 620.12,803.3 627.5,803.9" fill="none" stroke="#e01b1b" stroke-width="2" stroke-dasharray="6 4"/>
<path d="M96.2,809 C103.58,809.27 125.72,803.95 140.47,810.6 C155.23,817.25 169.99,846.42 184.75,848.9 C199.51,851.38 214.27,834.5 229.02,825.5 C243.78,816.5 258.54,799.82 273.3,794.9 C288.06,789.98 302.82,793.65 317.57,796 C332.33,798.35 347.09,806 361.85,809 C376.61,812 391.37,813.72 406.12,814 C420.88,814.28 435.64,811.53 450.4,810.7 C465.16,809.87 479.92,809.28 494.67,809 C509.43,808.72 524.19,809 538.95,809 C553.71,809 568.47,809 583.23,809 C597.98,809 620.12,809 627.5,809" fill="none" stroke="#16a04c" stroke-width="2" stroke-dasharray="6 4"/>
<line x1="96.2" y1="809" x2="627.5" y2="809" stroke="#203882" stroke-width="2.2" stroke-linecap="butt"/>
<path d="M96.2,803.6 C103.58,803.85 125.72,804.2 140.47,805.1 C155.23,806 169.99,808.82 184.75,809 C199.51,809.18 214.27,806.85 229.02,806.2 C243.78,805.55 258.54,804.98 273.3,805.1 C288.06,805.22 302.82,806.5 317.57,806.9 C332.33,807.3 347.09,807.32 361.85,807.5 C376.61,807.68 391.37,807.83 406.12,808 C420.88,808.17 435.64,808.33 450.4,808.5 C465.16,808.67 479.92,808.92 494.67,809 C509.43,809.08 524.19,809 538.95,809 C553.71,809 568.47,809 583.23,809 C597.98,809 620.12,809 627.5,809" fill="none" stroke="#e01b1b" stroke-width="2"/>
<clipPath id="cp3"><rect x="96.2" y="533.1" width="531.3" height="386.3"/></clipPath>
<g clip-path="url(#cp3)">
<path d="M96.2,505 C103.58,546.93 125.72,707.75 140.47,756.6 C147.14,778.67 169.99,784.68 184.75,798.1 C199.51,811.52 214.27,832.53 229.02,837.1 C243.78,841.67 258.54,830.97 273.3,825.5 C288.06,820.03 302.82,808.5 317.57,804.3 C332.33,800.1 347.09,799.52 361.85,800.3 C376.61,801.08 391.37,807.47 406.12,809 C420.88,810.53 435.64,809.42 450.4,809.5 C465.16,809.58 479.92,809.55 494.67,809.5 C509.43,809.45 524.19,809.28 538.95,809.2 C553.71,809.12 568.47,809.03 583.23,809 C597.98,808.97 620.12,809 627.5,809" fill="none" stroke="#16a04c" stroke-width="2"/>
</g>
<path d="M96.2,800.6 L99.2,803.6 L96.2,806.6 L93.2,803.6Z" fill="#8c3a3a"/>
<path d="M140.47,802.1 L143.47,805.1 L140.47,808.1 L137.47,805.1Z" fill="#8c3a3a"/>
<path d="M184.75,806 L187.75,809 L184.75,812 L181.75,809Z" fill="#8c3a3a"/>
<path d="M229.02,803.2 L232.02,806.2 L229.02,809.2 L226.02,806.2Z" fill="#8c3a3a"/>
<path d="M273.3,802.1 L276.3,805.1 L273.3,808.1 L270.3,805.1Z" fill="#8c3a3a"/>
<path d="M317.57,803.9 L320.57,806.9 L317.57,809.9 L314.57,806.9Z" fill="#8c3a3a"/>
<path d="M361.85,804.5 L364.85,807.5 L361.85,810.5 L358.85,807.5Z" fill="#8c3a3a"/>
<path d="M406.12,805 L409.12,808 L406.12,811 L403.12,808Z" fill="#8c3a3a"/>
<path d="M450.4,805.5 L453.4,808.5 L450.4,811.5 L447.4,808.5Z" fill="#8c3a3a"/>
<path d="M494.67,806 L497.67,809 L494.67,812 L491.67,809Z" fill="#8c3a3a"/>
<path d="M538.95,806 L541.95,809 L538.95,812 L535.95,809Z" fill="#8c3a3a"/>
<path d="M583.23,806 L586.23,809 L583.23,812 L580.23,809Z" fill="#8c3a3a"/>
<path d="M627.5,806 L630.5,809 L627.5,812 L624.5,809Z" fill="#8c3a3a"/>
<path d="M96.2,829.5 L99.2,832.5 L96.2,835.5 L93.2,832.5Z" fill="#e8a4a4"/>
<path d="M140.47,821 L143.47,824 L140.47,827 L137.47,824Z" fill="#e8a4a4"/>
<path d="M184.75,821.4 L187.75,824.4 L184.75,827.4 L181.75,824.4Z" fill="#e8a4a4"/>
<path d="M229.02,821 L232.02,824 L229.02,827 L226.02,824Z" fill="#e8a4a4"/>
<path d="M273.3,814.8 L276.3,817.8 L273.3,820.8 L270.3,817.8Z" fill="#e8a4a4"/>
<path d="M317.57,807.8 L320.57,810.8 L317.57,813.8 L314.57,810.8Z" fill="#e8a4a4"/>
<path d="M361.85,802 L364.85,805 L361.85,808 L358.85,805Z" fill="#e8a4a4"/>
<path d="M406.12,798 L409.12,801 L406.12,804 L403.12,801Z" fill="#e8a4a4"/>
<path d="M450.4,795 L453.4,798 L450.4,801 L447.4,798Z" fill="#e8a4a4"/>
<path d="M494.67,793.4 L497.67,796.4 L494.67,799.4 L491.67,796.4Z" fill="#e8a4a4"/>
<path d="M538.95,794.1 L541.95,797.1 L538.95,800.1 L535.95,797.1Z" fill="#e8a4a4"/>
<path d="M583.23,797.3 L586.23,800.3 L583.23,803.3 L580.23,800.3Z" fill="#e8a4a4"/>
<path d="M627.5,800.9 L630.5,803.9 L627.5,806.9 L624.5,803.9Z" fill="#e8a4a4"/>
<path d="M96.2,806 L99.2,809 L96.2,812 L93.2,809Z" fill="#c4d49c"/>
<path d="M140.47,806 L143.47,809 L140.47,812 L137.47,809Z" fill="#c4d49c"/>
<path d="M184.75,806 L187.75,809 L184.75,812 L181.75,809Z" fill="#c4d49c"/>
<path d="M229.02,806 L232.02,809 L229.02,812 L226.02,809Z" fill="#c4d49c"/>
<path d="M273.3,806 L276.3,809 L273.3,812 L270.3,809Z" fill="#c4d49c"/>
<path d="M317.57,806 L320.57,809 L317.57,812 L314.57,809Z" fill="#c4d49c"/>
<path d="M361.85,806 L364.85,809 L361.85,812 L358.85,809Z" fill="#c4d49c"/>
<path d="M406.12,806 L409.12,809 L406.12,812 L403.12,809Z" fill="#c4d49c"/>
<path d="M450.4,806 L453.4,809 L450.4,812 L447.4,809Z" fill="#c4d49c"/>
<path d="M494.67,806 L497.67,809 L494.67,812 L491.67,809Z" fill="#c4d49c"/>
<path d="M538.95,806 L541.95,809 L538.95,812 L535.95,809Z" fill="#c4d49c"/>
<path d="M583.23,806 L586.23,809 L583.23,812 L580.23,809Z" fill="#c4d49c"/>
<path d="M627.5,806 L630.5,809 L627.5,812 L624.5,809Z" fill="#c4d49c"/>
<path d="M140.47,753.1 L143.8,759.05 L137.15,759.05Z" fill="#5e4f9c"/>
<path d="M184.75,794.6 L188.07,800.55 L181.43,800.55Z" fill="#5e4f9c"/>
<path d="M229.02,833.6 L232.35,839.55 L225.7,839.55Z" fill="#5e4f9c"/>
<path d="M273.3,822 L276.62,827.95 L269.98,827.95Z" fill="#5e4f9c"/>
<path d="M317.57,800.8 L320.9,806.75 L314.25,806.75Z" fill="#5e4f9c"/>
<path d="M361.85,796.8 L365.17,802.75 L358.52,802.75Z" fill="#5e4f9c"/>
<path d="M406.12,805.5 L409.45,811.45 L402.8,811.45Z" fill="#5e4f9c"/>
<path d="M450.4,806 L453.72,811.95 L447.07,811.95Z" fill="#5e4f9c"/>
<path d="M494.67,806 L498,811.95 L491.35,811.95Z" fill="#5e4f9c"/>
<path d="M538.95,805.7 L542.28,811.65 L535.62,811.65Z" fill="#5e4f9c"/>
<path d="M583.23,805.5 L586.55,811.45 L579.9,811.45Z" fill="#5e4f9c"/>
<path d="M627.5,805.5 L630.83,811.45 L624.17,811.45Z" fill="#5e4f9c"/>
<path d="M96.2,805.5 L99.53,811.45 L92.88,811.45Z" fill="#b0a8d4"/>
<path d="M140.47,807.1 L143.8,813.05 L137.15,813.05Z" fill="#b0a8d4"/>
<path d="M184.75,845.4 L188.07,851.35 L181.43,851.35Z" fill="#b0a8d4"/>
<path d="M229.02,822 L232.35,827.95 L225.7,827.95Z" fill="#b0a8d4"/>
<path d="M273.3,791.4 L276.62,797.35 L269.98,797.35Z" fill="#b0a8d4"/>
<path d="M317.57,792.5 L320.9,798.45 L314.25,798.45Z" fill="#b0a8d4"/>
<path d="M361.85,805.5 L365.17,811.45 L358.52,811.45Z" fill="#b0a8d4"/>
<path d="M406.12,810.5 L409.45,816.45 L402.8,816.45Z" fill="#b0a8d4"/>
<path d="M450.4,807.2 L453.72,813.15 L447.07,813.15Z" fill="#b0a8d4"/>
<path d="M494.67,805.5 L498,811.45 L491.35,811.45Z" fill="#b0a8d4"/>
<path d="M538.95,805.5 L542.28,811.45 L535.62,811.45Z" fill="#b0a8d4"/>
<path d="M583.23,805.5 L586.55,811.45 L579.9,811.45Z" fill="#b0a8d4"/>
<path d="M627.5,805.5 L630.83,811.45 L624.17,811.45Z" fill="#b0a8d4"/>
<rect x="96.2" y="533.1" width="531.3" height="386.3" fill="none" stroke="#1a1a1a" stroke-width="2"/>
<text x="96.2" y="838.8" font-size="14.6" font-weight="bold" text-anchor="middle" fill="#000" textLength="8.6" lengthAdjust="spacingAndGlyphs">0</text>
<text x="184.75" y="838.8" font-size="14.6" font-weight="bold" text-anchor="middle" fill="#000" textLength="8.6" lengthAdjust="spacingAndGlyphs">1</text>
<text x="273.3" y="838.8" font-size="14.6" font-weight="bold" text-anchor="middle" fill="#000" textLength="8.6" lengthAdjust="spacingAndGlyphs">2</text>
<text x="361.85" y="838.8" font-size="14.6" font-weight="bold" text-anchor="middle" fill="#000" textLength="8.6" lengthAdjust="spacingAndGlyphs">3</text>
<text x="450.4" y="838.8" font-size="14.6" font-weight="bold" text-anchor="middle" fill="#000" textLength="8.6" lengthAdjust="spacingAndGlyphs">4</text>
<text x="538.95" y="838.8" font-size="14.6" font-weight="bold" text-anchor="middle" fill="#000" textLength="8.6" lengthAdjust="spacingAndGlyphs">5</text>
<text x="627.5" y="838.8" font-size="14.6" font-weight="bold" text-anchor="middle" fill="#000" textLength="8.6" lengthAdjust="spacingAndGlyphs">6</text>
<text x="21.9" y="739.8" font-size="19" font-weight="bold" text-anchor="middle" fill="#000" textLength="206.6" lengthAdjust="spacingAndGlyphs" transform="rotate(-90 21.9 739.8)">Horizontal Displacement</text>
<text x="120.2" y="563.6" font-size="24" font-weight="normal" text-anchor="start" fill="#000" stroke="#000" stroke-width="0.4">Δ</text>
<text x="136.8" y="563.6" font-size="10.5" font-weight="normal" text-anchor="start" fill="#000" textLength="12" lengthAdjust="spacingAndGlyphs">x2</text>
<text x="379.4" y="864.1" font-size="21.7" font-weight="normal" text-anchor="start" fill="#000">a</text>
<circle cx="394.1" cy="872.1" r="3.2" fill="none" stroke="#000" stroke-width="1.1"/>
<text x="271.9" y="962.5" font-size="24.5" font-weight="bold" text-anchor="start" fill="#000" textLength="80" lengthAdjust="spacingAndGlyphs">F2: d=5</text>
<text x="328.7" y="582.9" font-size="14.6" font-weight="bold" text-anchor="start" fill="#000" textLength="170.8" lengthAdjust="spacingAndGlyphs">Vertical angle of incidence</text>
<text x="507.7" y="583.2" font-size="19.2" font-weight="normal" text-anchor="start" fill="#000" font-style="italic" textLength="11.8" lengthAdjust="spacingAndGlyphs" stroke="#000" stroke-width="0.5">θ</text>
<text x="516.4" y="583.2" font-size="18" font-weight="normal" text-anchor="start" fill="#000" font-style="italic" textLength="9.6" lengthAdjust="spacingAndGlyphs" stroke="#000" stroke-width="0.5">v</text>
<text x="240.3" y="612" font-size="14.5" font-weight="bold" text-anchor="start" fill="#000" textLength="59.5" lengthAdjust="spacingAndGlyphs">Real Part</text>
<text x="206.8" y="655" font-size="14.5" font-weight="bold" text-anchor="start" fill="#000" textLength="96.6" lengthAdjust="spacingAndGlyphs">Imaginary Part</text>
<path d="M347,602.7 Q340.15,602.7 340.15,605.7 L340.15,630.3 Q340.15,632.3 333.3,632.3 Q340.15,632.3 340.15,634.3 L340.15,657.6 Q340.15,660.6 347,660.6" fill="none" stroke="#000" stroke-width="1.8"/>
<line x1="366.8" y1="608.2" x2="389.7" y2="608.2" stroke="#e01b1b" stroke-width="2.2" stroke-linecap="butt"/>
<path d="M378.25,604.8 L381.65,608.2 L378.25,611.6 L374.85,608.2Z" fill="#8c3a3a"/>
<text x="392.3" y="612.8" font-size="14.2" font-weight="bold" text-anchor="start" fill="#000" textLength="24.2" lengthAdjust="spacingAndGlyphs">30°</text>
<line x1="440" y1="608.2" x2="462.9" y2="608.2" stroke="#203882" stroke-width="2.2" stroke-linecap="butt"/>
<path d="M451.45,604.8 L454.68,610.58 L448.22,610.58Z" fill="#9bbb59"/>
<text x="466.5" y="612.8" font-size="14.2" font-weight="bold" text-anchor="start" fill="#000" textLength="20.3" lengthAdjust="spacingAndGlyphs">45°</text>
<line x1="513" y1="608.2" x2="537.6" y2="608.2" stroke="#16a04c" stroke-width="2.2" stroke-linecap="butt"/>
<path d="M525.3,604.8 L528.53,610.58 L522.07,610.58Z" fill="#5e4f9c"/>
<text x="539.5" y="612.8" font-size="14.2" font-weight="bold" text-anchor="start" fill="#000" textLength="22" lengthAdjust="spacingAndGlyphs">60°</text>
<line x1="366.8" y1="650.9" x2="374.36" y2="650.9" stroke="#e01b1b" stroke-width="2.2" stroke-linecap="butt"/>
<line x1="382.14" y1="650.9" x2="389.7" y2="650.9" stroke="#e01b1b" stroke-width="2.2" stroke-linecap="butt"/>
<path d="M378.25,647.5 L381.65,650.9 L378.25,654.3 L374.85,650.9Z" fill="#e8a4a4"/>
<text x="392.3" y="655.5" font-size="14.2" font-weight="bold" text-anchor="start" fill="#000" textLength="24.2" lengthAdjust="spacingAndGlyphs">30°</text>
<line x1="440" y1="650.9" x2="447.56" y2="650.9" stroke="#203882" stroke-width="2.2" stroke-linecap="butt"/>
<line x1="455.34" y1="650.9" x2="462.9" y2="650.9" stroke="#203882" stroke-width="2.2" stroke-linecap="butt"/>
<path d="M451.45,647.5 L454.85,650.9 L451.45,654.3 L448.05,650.9Z" fill="#c4d49c"/>
<text x="466.5" y="655.5" font-size="14.2" font-weight="bold" text-anchor="start" fill="#000" textLength="20.3" lengthAdjust="spacingAndGlyphs">45°</text>
<line x1="513" y1="650.9" x2="521.12" y2="650.9" stroke="#16a04c" stroke-width="2.2" stroke-linecap="butt"/>
<line x1="529.48" y1="650.9" x2="537.6" y2="650.9" stroke="#16a04c" stroke-width="2.2" stroke-linecap="butt"/>
<path d="M525.3,647.5 L528.53,653.28 L522.07,653.28Z" fill="#b0a8d4"/>
<text x="539.5" y="655.5" font-size="14.2" font-weight="bold" text-anchor="start" fill="#000" textLength="22" lengthAdjust="spacingAndGlyphs">60°</text>
<text x="389.3" y="736.6" font-size="15.3" font-weight="bold" text-anchor="start" fill="#000" textLength="25.8" lengthAdjust="spacingAndGlyphs">d =5</text>
<line x1="722" y1="533.9" x2="727.8" y2="533.9" stroke="#000" stroke-width="1.5" stroke-linecap="butt"/>
<line x1="722" y1="574.78" x2="727.8" y2="574.78" stroke="#000" stroke-width="1.5" stroke-linecap="butt"/>
<line x1="722" y1="615.66" x2="727.8" y2="615.66" stroke="#000" stroke-width="1.5" stroke-linecap="butt"/>
<line x1="722" y1="656.54" x2="727.8" y2="656.54" stroke="#000" stroke-width="1.5" stroke-linecap="butt"/>
<line x1="722" y1="697.42" x2="727.8" y2="697.42" stroke="#000" stroke-width="1.5" stroke-linecap="butt"/>
<line x1="722" y1="738.3" x2="727.8" y2="738.3" stroke="#000" stroke-width="1.5" stroke-linecap="butt"/>
<line x1="722" y1="779.18" x2="727.8" y2="779.18" stroke="#000" stroke-width="1.5" stroke-linecap="butt"/>
<line x1="722" y1="820.06" x2="727.8" y2="820.06" stroke="#000" stroke-width="1.5" stroke-linecap="butt"/>
<line x1="722" y1="860.94" x2="727.8" y2="860.94" stroke="#000" stroke-width="1.5" stroke-linecap="butt"/>
<line x1="722" y1="901.82" x2="727.8" y2="901.82" stroke="#000" stroke-width="1.5" stroke-linecap="butt"/>
<line x1="722" y1="942.7" x2="727.8" y2="942.7" stroke="#000" stroke-width="1.5" stroke-linecap="butt"/>
<line x1="817.6" y1="860.94" x2="817.6" y2="865.94" stroke="#000" stroke-width="1.3" stroke-linecap="butt"/>
<line x1="907.4" y1="860.94" x2="907.4" y2="865.94" stroke="#000" stroke-width="1.3" stroke-linecap="butt"/>
<line x1="997.2" y1="860.94" x2="997.2" y2="865.94" stroke="#000" stroke-width="1.3" stroke-linecap="butt"/>
<line x1="1087" y1="860.94" x2="1087" y2="865.94" stroke="#000" stroke-width="1.3" stroke-linecap="butt"/>
<line x1="1176.8" y1="860.94" x2="1176.8" y2="865.94" stroke="#000" stroke-width="1.3" stroke-linecap="butt"/>
<line x1="1266.6" y1="860.94" x2="1266.6" y2="865.94" stroke="#000" stroke-width="1.3" stroke-linecap="butt"/>
<text x="712.3" y="538.9" font-size="14.6" font-weight="bold" text-anchor="end" fill="#000" textLength="19.6" lengthAdjust="spacingAndGlyphs">0,8</text>
<text x="712.3" y="579.78" font-size="14.6" font-weight="bold" text-anchor="end" fill="#000" textLength="19.6" lengthAdjust="spacingAndGlyphs">0,7</text>
<text x="712.3" y="620.66" font-size="14.6" font-weight="bold" text-anchor="end" fill="#000" textLength="19.6" lengthAdjust="spacingAndGlyphs">0,6</text>
<text x="712.3" y="661.54" font-size="14.6" font-weight="bold" text-anchor="end" fill="#000" textLength="19.6" lengthAdjust="spacingAndGlyphs">0,5</text>
<text x="712.3" y="702.42" font-size="14.6" font-weight="bold" text-anchor="end" fill="#000" textLength="19.6" lengthAdjust="spacingAndGlyphs">0,4</text>
<text x="712.3" y="743.3" font-size="14.6" font-weight="bold" text-anchor="end" fill="#000" textLength="19.6" lengthAdjust="spacingAndGlyphs">0,3</text>
<text x="712.3" y="784.18" font-size="14.6" font-weight="bold" text-anchor="end" fill="#000" textLength="19.6" lengthAdjust="spacingAndGlyphs">0,2</text>
<text x="712.3" y="825.06" font-size="14.6" font-weight="bold" text-anchor="end" fill="#000" textLength="19.6" lengthAdjust="spacingAndGlyphs">0,1</text>
<text x="712.3" y="865.94" font-size="14.6" font-weight="bold" text-anchor="end" fill="#000" textLength="8.6" lengthAdjust="spacingAndGlyphs">0</text>
<text x="712.3" y="906.82" font-size="14.6" font-weight="bold" text-anchor="end" fill="#000" textLength="25.5" lengthAdjust="spacingAndGlyphs">-0,1</text>
<text x="712.3" y="947.7" font-size="14.6" font-weight="bold" text-anchor="end" fill="#000" textLength="25.5" lengthAdjust="spacingAndGlyphs">-0,2</text>
<path d="M727.8,885.5 C735.28,884.02 757.73,878.08 772.7,876.6 C787.67,875.12 802.63,876.6 817.6,876.6 C832.57,876.6 847.53,877.65 862.5,876.6 C877.47,875.55 892.43,872.55 907.4,870.3 C922.37,868.05 937.33,865.33 952.3,863.1 C967.27,860.87 982.23,858.68 997.2,856.9 C1012.17,855.12 1027.13,853.63 1042.1,852.4 C1057.07,851.17 1072.03,850.3 1087,849.5 C1101.97,848.7 1116.93,847.8 1131.9,847.6 C1146.87,847.4 1161.83,847.62 1176.8,848.3 C1191.77,848.98 1206.73,850.48 1221.7,851.7 C1236.67,852.92 1259.12,854.95 1266.6,855.6" fill="none" stroke="#e01b1b" stroke-width="2" stroke-dasharray="6 4"/>
<path d="M727.8,861 C735.28,861 757.73,860.5 772.7,861 C787.67,861.5 802.63,864 817.6,864 C832.57,864 847.53,861.5 862.5,861 C877.47,860.5 892.43,861 907.4,861 C922.37,861 937.33,861 952.3,861 C967.27,861 982.23,861 997.2,861 C1012.17,861 1027.13,861 1042.1,861 C1057.07,861 1072.03,861 1087,861 C1101.97,861 1116.93,861 1131.9,861 C1146.87,861 1161.83,861 1176.8,861 C1191.77,861 1206.73,861 1221.7,861 C1236.67,861 1259.12,861 1266.6,861" fill="none" stroke="#16a04c" stroke-width="2" stroke-dasharray="6 4"/>
<line x1="727.8" y1="860.94" x2="1266.6" y2="860.94" stroke="#16a04c" stroke-width="2.4" stroke-linecap="butt"/>
<path d="M727.8,854.7 C735.28,855.02 757.73,856.08 772.7,856.6 C787.67,857.12 802.63,857.86 817.6,857.8 C832.57,857.74 847.53,856.2 862.5,856.25 C877.47,856.3 892.43,857.58 907.4,858.1 C922.37,858.62 937.33,859.18 952.3,859.4 C967.27,859.62 982.23,859.3 997.2,859.4 C1012.17,859.5 1027.13,859.85 1042.1,860 C1057.07,860.15 1072.03,860.22 1087,860.3 C1101.97,860.38 1116.93,860.43 1131.9,860.5 C1146.87,860.57 1161.83,860.65 1176.8,860.7 C1191.77,860.75 1206.73,860.75 1221.7,860.8 C1236.67,860.85 1259.12,860.97 1266.6,861" fill="none" stroke="#e01b1b" stroke-width="2"/>
<path d="M727.8,551.9 C735.28,601.68 757.73,798 772.7,850.6 C777.69,868.13 802.63,866.25 817.6,867.5 C832.57,868.75 847.53,859.14 862.5,858.1 C877.47,857.06 892.43,860.77 907.4,861.25 C922.37,861.73 937.33,861.04 952.3,861 C967.27,860.96 982.23,861 997.2,861 C1012.17,861 1027.13,861 1042.1,861 C1057.07,861 1072.03,861 1087,861 C1101.97,861 1116.93,861 1131.9,861 C1146.87,861 1161.83,861 1176.8,861 C1191.77,861 1206.73,861 1221.7,861 C1236.67,861 1259.12,861 1266.6,861" fill="none" stroke="#16a04c" stroke-width="2"/>
<path d="M727.8,851.7 L730.8,854.7 L727.8,857.7 L724.8,854.7Z" fill="#e0903c"/>
<path d="M772.7,853.6 L775.7,856.6 L772.7,859.6 L769.7,856.6Z" fill="#e0903c"/>
<path d="M817.6,854.8 L820.6,857.8 L817.6,860.8 L814.6,857.8Z" fill="#e0903c"/>
<path d="M862.5,853.25 L865.5,856.25 L862.5,859.25 L859.5,856.25Z" fill="#e0903c"/>
<path d="M907.4,855.1 L910.4,858.1 L907.4,861.1 L904.4,858.1Z" fill="#e0903c"/>
<path d="M952.3,856.4 L955.3,859.4 L952.3,862.4 L949.3,859.4Z" fill="#e0903c"/>
<path d="M997.2,856.4 L1000.2,859.4 L997.2,862.4 L994.2,859.4Z" fill="#e0903c"/>
<path d="M1042.1,857 L1045.1,860 L1042.1,863 L1039.1,860Z" fill="#e0903c"/>
<path d="M1087,857.3 L1090,860.3 L1087,863.3 L1084,860.3Z" fill="#e0903c"/>
<path d="M1131.9,857.5 L1134.9,860.5 L1131.9,863.5 L1128.9,860.5Z" fill="#e0903c"/>
<path d="M1176.8,857.7 L1179.8,860.7 L1176.8,863.7 L1173.8,860.7Z" fill="#e0903c"/>
<path d="M1221.7,857.8 L1224.7,860.8 L1221.7,863.8 L1218.7,860.8Z" fill="#e0903c"/>
<path d="M1266.6,858 L1269.6,861 L1266.6,864 L1263.6,861Z" fill="#e0903c"/>
<path d="M727.8,857.44 L731.12,863.39 L724.47,863.39Z" fill="#f0a048"/>
<path d="M772.7,857.44 L776.02,863.39 L769.37,863.39Z" fill="#f0a048"/>
<path d="M817.6,857.44 L820.92,863.39 L814.27,863.39Z" fill="#f0a048"/>
<path d="M862.5,857.44 L865.83,863.39 L859.17,863.39Z" fill="#f0a048"/>
<path d="M907.4,857.44 L910.73,863.39 L904.07,863.39Z" fill="#f0a048"/>
<path d="M952.3,857.44 L955.62,863.39 L948.97,863.39Z" fill="#f0a048"/>
<path d="M997.2,857.44 L1000.52,863.39 L993.87,863.39Z" fill="#f0a048"/>
<path d="M1042.1,857.44 L1045.42,863.39 L1038.77,863.39Z" fill="#f0a048"/>
<path d="M1087,857.44 L1090.33,863.39 L1083.67,863.39Z" fill="#f0a048"/>
<path d="M1131.9,857.44 L1135.22,863.39 L1128.57,863.39Z" fill="#f0a048"/>
<path d="M1176.8,857.44 L1180.12,863.39 L1173.47,863.39Z" fill="#f0a048"/>
<path d="M1221.7,857.44 L1225.02,863.39 L1218.37,863.39Z" fill="#f0a048"/>
<path d="M1266.6,857.44 L1269.92,863.39 L1263.27,863.39Z" fill="#f0a048"/>
<path d="M727.8,882.3 L731,885.5 L727.8,888.7 L724.6,885.5Z" fill="#8064a8"/>
<path d="M772.7,873.4 L775.9,876.6 L772.7,879.8 L769.5,876.6Z" fill="#8064a8"/>
<path d="M817.6,873.4 L820.8,876.6 L817.6,879.8 L814.4,876.6Z" fill="#8064a8"/>
<path d="M862.5,873.4 L865.7,876.6 L862.5,879.8 L859.3,876.6Z" fill="#8064a8"/>
<path d="M907.4,867.1 L910.6,870.3 L907.4,873.5 L904.2,870.3Z" fill="#8064a8"/>
<path d="M952.3,859.9 L955.5,863.1 L952.3,866.3 L949.1,863.1Z" fill="#8064a8"/>
<path d="M997.2,853.7 L1000.4,856.9 L997.2,860.1 L994,856.9Z" fill="#8064a8"/>
<path d="M1042.1,849.2 L1045.3,852.4 L1042.1,855.6 L1038.9,852.4Z" fill="#8064a8"/>
<path d="M1087,846.3 L1090.2,849.5 L1087,852.7 L1083.8,849.5Z" fill="#8064a8"/>
<path d="M1131.9,844.4 L1135.1,847.6 L1131.9,850.8 L1128.7,847.6Z" fill="#8064a8"/>
<path d="M1176.8,845.1 L1180,848.3 L1176.8,851.5 L1173.6,848.3Z" fill="#8064a8"/>
<path d="M1221.7,848.5 L1224.9,851.7 L1221.7,854.9 L1218.5,851.7Z" fill="#8064a8"/>
<path d="M1266.6,852.4 L1269.8,855.6 L1266.6,858.8 L1263.4,855.6Z" fill="#8064a8"/>
<path d="M727.8,547.9 L731.6,554.7 L724,554.7Z" fill="#c8504a"/>
<path d="M772.7,846.6 L776.5,853.4 L768.9,853.4Z" fill="#c8504a"/>
<rect x="727.8" y="533.9" width="538.8" height="408.8" fill="none" stroke="#1a1a1a" stroke-width="2"/>
<text x="727.8" y="892.2" font-size="14.6" font-weight="bold" text-anchor="middle" fill="#000" textLength="8.6" lengthAdjust="spacingAndGlyphs">0</text>
<text x="817.6" y="892.2" font-size="14.6" font-weight="bold" text-anchor="middle" fill="#000" textLength="8.6" lengthAdjust="spacingAndGlyphs">1</text>
<text x="907.4" y="892.2" font-size="14.6" font-weight="bold" text-anchor="middle" fill="#000" textLength="8.6" lengthAdjust="spacingAndGlyphs">2</text>
<text x="997.2" y="892.2" font-size="14.6" font-weight="bold" text-anchor="middle" fill="#000" textLength="8.6" lengthAdjust="spacingAndGlyphs">3</text>
<text x="1087" y="892.2" font-size="14.6" font-weight="bold" text-anchor="middle" fill="#000" textLength="8.6" lengthAdjust="spacingAndGlyphs">4</text>
<text x="1176.8" y="892.2" font-size="14.6" font-weight="bold" text-anchor="middle" fill="#000" textLength="8.6" lengthAdjust="spacingAndGlyphs">5</text>
<text x="1266.6" y="892.2" font-size="14.6" font-weight="bold" text-anchor="middle" fill="#000" textLength="8.6" lengthAdjust="spacingAndGlyphs">6</text>
<text x="675.9" y="720.1" font-size="19" font-weight="bold" text-anchor="middle" fill="#000" textLength="218.8" lengthAdjust="spacingAndGlyphs" transform="rotate(-90 675.9 720.1)">Horizontal Displacement</text>
<text x="752" y="568.7" font-size="24.3" font-weight="normal" text-anchor="start" fill="#000" stroke="#000" stroke-width="0.4">Δ</text>
<text x="768.5" y="568.7" font-size="12" font-weight="normal" text-anchor="start" fill="#000" textLength="13.2" lengthAdjust="spacingAndGlyphs">x2</text>
<text x="1043.7" y="884.6" font-size="21.7" font-weight="normal" text-anchor="start" fill="#000">a</text>
<circle cx="1058.9" cy="892.9" r="3.1" fill="none" stroke="#000" stroke-width="1.1"/>
<text x="928.8" y="986" font-size="25.4" font-weight="bold" text-anchor="start" fill="#000" textLength="93.7" lengthAdjust="spacingAndGlyphs">F2: d=10</text>
<text x="991.7" y="587.5" font-size="15" font-weight="bold" text-anchor="start" fill="#000" textLength="174.9" lengthAdjust="spacingAndGlyphs">Vertical angle of incidence</text>
<text x="1173.1" y="587" font-size="20" font-weight="normal" text-anchor="start" fill="#000" font-style="italic" textLength="11.8" lengthAdjust="spacingAndGlyphs">θ</text>
<text x="1185.3" y="587" font-size="18.5" font-weight="normal" text-anchor="start" fill="#000" font-style="italic" textLength="9.8" lengthAdjust="spacingAndGlyphs">v</text>
<text x="904.4" y="620" font-size="14.5" font-weight="bold" text-anchor="start" fill="#000" textLength="59.8" lengthAdjust="spacingAndGlyphs">Real Part</text>
<text x="866.8" y="660.5" font-size="14.5" font-weight="bold" text-anchor="start" fill="#000" textLength="98.2" lengthAdjust="spacingAndGlyphs">Imaginary Part</text>
<path d="M1006,607.7 Q998.85,607.7 998.85,610.7 L998.85,636 Q998.85,638 991.7,638 Q998.85,638 998.85,640 L998.85,665.4 Q998.85,668.4 1006,668.4" fill="none" stroke="#000" stroke-width="1.8"/>
<line x1="1016.2" y1="613.5" x2="1039.4" y2="613.5" stroke="#e01b1b" stroke-width="2.2" stroke-linecap="butt"/>
<path d="M1027.8,610.1 L1031.2,613.5 L1027.8,616.9 L1024.4,613.5Z" fill="#e0903c"/>
<text x="1041.3" y="618.5" font-size="14.8" font-weight="bold" text-anchor="start" fill="#000" textLength="22.2" lengthAdjust="spacingAndGlyphs">30°</text>
<line x1="1081.3" y1="613.5" x2="1105.9" y2="613.5" stroke="#16a04c" stroke-width="2.2" stroke-linecap="butt"/>
<path d="M1093.6,610.1 L1096.83,615.88 L1090.37,615.88Z" fill="#4bacc6"/>
<text x="1106.4" y="618.5" font-size="14.8" font-weight="bold" text-anchor="start" fill="#000" textLength="22.1" lengthAdjust="spacingAndGlyphs">45°</text>
<line x1="1146.3" y1="613.5" x2="1170.9" y2="613.5" stroke="#16a04c" stroke-width="2.2" stroke-linecap="butt"/>
<path d="M1158.6,610.1 L1161.83,615.88 L1155.37,615.88Z" fill="#c8504a"/>
<text x="1172" y="618.5" font-size="14.8" font-weight="bold" text-anchor="start" fill="#000" textLength="23" lengthAdjust="spacingAndGlyphs">60°</text>
<line x1="1016.2" y1="659.7" x2="1023.86" y2="659.7" stroke="#e01b1b" stroke-width="2.2" stroke-linecap="butt"/>
<line x1="1031.74" y1="659.7" x2="1039.4" y2="659.7" stroke="#e01b1b" stroke-width="2.2" stroke-linecap="butt"/>
<path d="M1027.8,656.3 L1031.2,659.7 L1027.8,663.1 L1024.4,659.7Z" fill="#8064a8"/>
<text x="1041.3" y="664.7" font-size="14.8" font-weight="bold" text-anchor="start" fill="#000" textLength="22.2" lengthAdjust="spacingAndGlyphs">30°</text>
<line x1="1081.3" y1="659.7" x2="1089.42" y2="659.7" stroke="#16a04c" stroke-width="2.2" stroke-linecap="butt"/>
<line x1="1097.78" y1="659.7" x2="1105.9" y2="659.7" stroke="#16a04c" stroke-width="2.2" stroke-linecap="butt"/>
<path d="M1093.6,656.3 L1096.83,662.08 L1090.37,662.08Z" fill="#4bacc6"/>
<text x="1106.4" y="664.7" font-size="14.8" font-weight="bold" text-anchor="start" fill="#000" textLength="22.1" lengthAdjust="spacingAndGlyphs">45°</text>
<line x1="1146.3" y1="659.7" x2="1154.42" y2="659.7" stroke="#16a04c" stroke-width="2.2" stroke-linecap="butt"/>
<line x1="1162.78" y1="659.7" x2="1170.9" y2="659.7" stroke="#16a04c" stroke-width="2.2" stroke-linecap="butt"/>
<path d="M1158.6,656.3 L1161.83,662.08 L1155.37,662.08Z" fill="#f0a048"/>
<text x="1172" y="664.7" font-size="14.8" font-weight="bold" text-anchor="start" fill="#000" textLength="23" lengthAdjust="spacingAndGlyphs">60°</text>
<text x="1072.6" y="752.1" font-size="15.3" font-weight="bold" text-anchor="start" fill="#000" textLength="35.4" lengthAdjust="spacingAndGlyphs">d =10</text>
<ellipse cx="1157" cy="0.5" rx="5" ry="2.2" fill="#333"/>
</svg></body></html>
